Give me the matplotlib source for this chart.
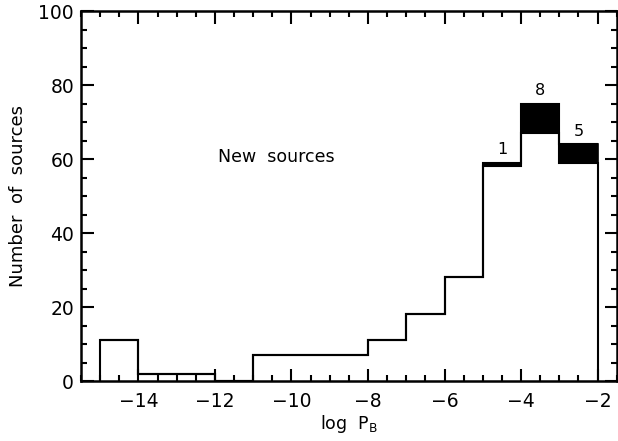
import matplotlib
matplotlib.use("Agg")
import matplotlib.pyplot as plt
import numpy as np
from matplotlib.ticker import MultipleLocator

plt.rcParams['font.family'] = ['DejaVu Sans']

edges = [-15, -14, -12, -11, -8, -7, -6, -5, -4, -3, -2]
known = [11, 2, 0, 7, 11, 18, 28, 58, 67, 59]
new_counts = [0, 0, 0, 0, 0, 0, 0, 1, 8, 5]
annot_bins = [7, 8, 9]
annot_text = ["1", "8", "5"]

fig = plt.figure(figsize=(6.18, 4.41), dpi=100)
ax = fig.add_axes([0.131, 0.136, 0.867, 0.839])

e = np.array(edges, dtype=float)
k = np.array(known, dtype=float)
n = np.array(new_counts, dtype=float)
widths = np.diff(e)
mask = n > 0
ax.bar(e[:-1][mask], n[mask], width=widths[mask], bottom=k[mask], align='edge',
       color='black', edgecolor='black', linewidth=1.2)
ax.stairs(k, e, baseline=0, color='black', linewidth=1.5)
ax.stairs(k + n, e, baseline=None, color='black', linewidth=1.5)

for i, t in zip(annot_bins, annot_text):
    xc = (e[i] + e[i + 1]) / 2
    ax.text(xc, k[i] + n[i] + 1.5, t, ha='center', va='bottom', fontsize=11.5)

ax.text(-10.4, 60.5, "New  sources", ha='center', va='center', fontsize=12.5)

ax.set_xlim(-15.5, -1.5)
ax.set_ylim(0, 100)
ax.xaxis.set_major_locator(MultipleLocator(2))
ax.xaxis.set_minor_locator(MultipleLocator(0.5))
ax.yaxis.set_major_locator(MultipleLocator(20))
ax.yaxis.set_minor_locator(MultipleLocator(5))
ax.tick_params(which='both', direction='in', top=True, right=True, width=1.5, labelsize=13.5)
ax.tick_params(which='major', length=9)
ax.tick_params(which='minor', length=4.5)
ax.tick_params(axis='x', pad=8)
ax.tick_params(axis='y', pad=5)
for s in ax.spines.values():
    s.set_linewidth(1.8)

ax.set_xlabel(r"log  P$_{\mathregular{B}}$", fontsize=12.5, labelpad=1)
ax.set_ylabel("Number  of  sources", fontsize=13, labelpad=8)

fig.savefig("out.png", dpi=100)
